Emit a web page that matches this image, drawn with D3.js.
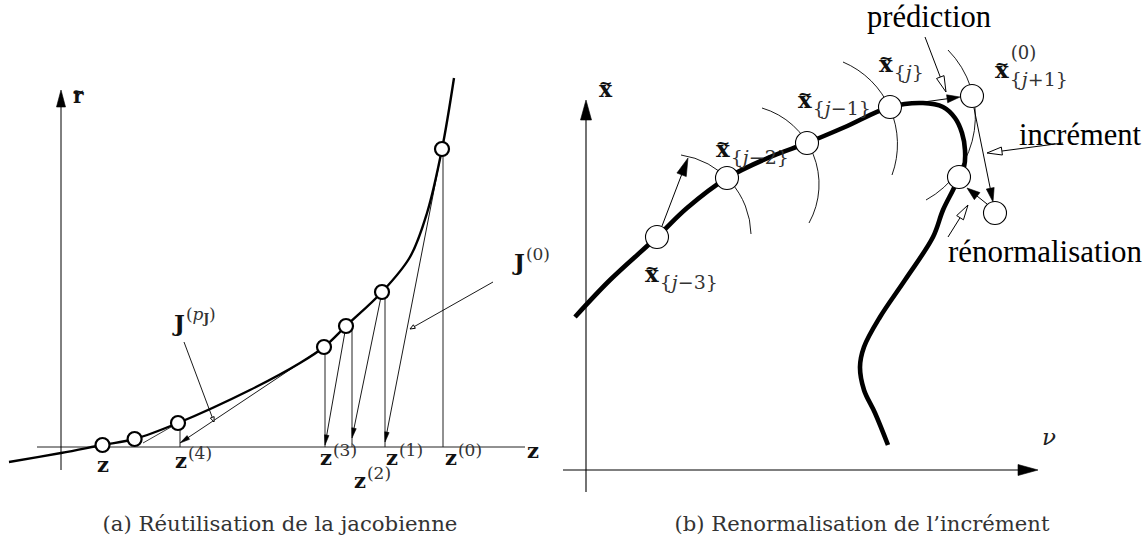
<!DOCTYPE html>
<html><head><meta charset="utf-8">
<script src="https://cdn.jsdelivr.net/npm/d3@7"></script>
<style>body{margin:0;background:#fff}svg{display:block}</style>
</head><body>
<svg id="c" width="1148" height="547"></svg>
<script>
// ===== LEFT PANEL DATA (units: origin at axes crossing, r upward) =====
const leftCurveZ = [-52, 0, 41.5, 73.6, 117, 189, 239, 263, 285, 321, 349, 366, 381, 393];
const leftCurveR = [-15, -6, 2, 8, 24, 57, 84, 100, 121, 155, 190, 234, 298, 369];
const leftPointZ = [381, 321, 285, 263, 117, 73.6, 41.5];
const leftPointR = [298, 155, 121, 100, 24, 8, 2];
const iterZ      = [382, 324, 291, 264, 119];          // z^(0) .. z^(4)
const iterTopR   = [298, 155, 119, 100, 24];           // vertical segment tops
const iterNames  = ["(0)", "(1)", "(2)", "(3)", "(4)"];
const iterLabelZ = [384, 325, 293, 259, 114];
const iterLabelR = [-18, -18, -41, -18, -21];
const chordFrom  = [0, 1, 2, 3];                       // point index
const chordTipZ  = [324, 291, 264, 119];
const chordTipR  = [5, 9, 2, 4];
// ===== RIGHT PANEL DATA (units: origin at axes crossing, x~ upward) =====
const rightCurveU = [-11, 24, 71, 101, 141, 184, 221, 259, 304, 337, 357, 369, 376, 379, 378, 373, 367, 357, 347, 319, 294, 278, 274, 278, 289, 302];
const rightCurveV = [153, 190, 233, 262, 292, 313, 327, 343, 363, 367, 363, 352, 337, 320, 303, 293, 280, 260, 233, 190, 153, 123, 103, 80, 57, 25];
const stepU = [71, 141, 221, 304];   // x~{j-3} .. x~{j}
const stepV = [233, 292, 327, 363];
const predU = 386, predV = 374;
const incrU = 409, incrV = 257;
const renU = 373, renV = 293;
const arcsU = [[95, 141, 165], [176, 233, 223], [257, 311, 306], [362, 389, 340]];
const arcsV = [[315, 292, 236], [362, 283, 247], [408, 335, 295], [420, 345, 270]];
const stepSubs   = ["{j−3}", "{j−2}", "{j−1}", "{j}"];
const stepLabelU = [59, 130, 212, 293];
const stepLabelV = [188, 313, 362, 398];
const captions = ["(a) Réutilisation de la jacobienne", "(b) Renormalisation de l’incrément"];
const words = ["prédiction", "incrément", "rénormalisation"];

const MATH = "'DejaVu Serif', serif";
const TEXT = "'Liberation Serif', 'Times New Roman', serif";
const svg = d3.select("#c");

const xL = d3.scaleLinear().domain([0, 464]).range([61, 525]);
const yL = d3.scaleLinear().domain([0, 380]).range([447, 67]);
const xR = d3.scaleLinear().domain([0, 452]).range([586, 1038]);
const yR = d3.scaleLinear().domain([0, 370]).range([470, 100]);

function head(g, x1, y1, x2, y2, len, wid, filled) {
  const a = Math.atan2(y2 - y1, x2 - x1);
  const bx = x2 - len * Math.cos(a), by = y2 - len * Math.sin(a);
  const px = -Math.sin(a) * wid / 2, py = Math.cos(a) * wid / 2;
  g.append("path").attr("d", `M${x2},${y2}L${bx + px},${by + py}L${bx - px},${by - py}Z`)
    .attr("fill", filled ? "#000" : "#fff").attr("stroke", "#000")
    .attr("stroke-width", filled ? 0.6 : 1);
}
function arrow(g, x1, y1, x2, y2, len, wid, filled, sw) {
  const a = Math.atan2(y2 - y1, x2 - x1);
  const k = filled ? len * 0.7 : len;
  g.append("line").attr("x1", x1).attr("y1", y1)
    .attr("x2", x2 - k * Math.cos(a)).attr("y2", y2 - k * Math.sin(a))
    .attr("stroke", "#000").attr("stroke-width", sw || 1);
  head(g, x1, y1, x2, y2, len, wid, filled);
}
function fit(t, target) {
  const w = t.node().getComputedTextLength();
  t.attr("font-size", parseFloat(t.attr("font-size")) * target / w);
}
function richText(g, x, y, str, fs, color) {
  const t = g.append("text").attr("x", x).attr("y", y).attr("font-family", MATH)
    .attr("font-size", fs).attr("fill", color || "#333");
  for (const ch of str) {
    const s = t.append("tspan").text(ch);
    if (ch === "j" || ch === "p") s.attr("font-style", "italic");
  }
  return t;
}
function tildeLetter(g, x, y, ch, fs) {
  const t = g.append("text").attr("x", x).attr("y", y).attr("font-family", MATH)
    .attr("font-weight", "bold").attr("font-size", fs).attr("fill", "#111").text(ch);
  const w = t.node().getComputedTextLength();
  g.append("text").attr("x", x + w / 2).attr("y", y - fs * 0.36).attr("text-anchor", "middle")
    .attr("font-family", MATH).attr("font-weight", "bold").attr("font-size", fs * 0.75)
    .attr("fill", "#111").text("~");
  return w;
}

// ================= LEFT PANEL =================
const gl = svg.append("g");
gl.append("line").attr("x1", xL(-24)).attr("x2", xL(464)).attr("y1", yL(0)).attr("y2", yL(0))
  .attr("stroke", "#222").attr("stroke-width", 1);
arrow(gl, xL(0), yL(-23), xL(0), yL(357), 17, 9, true, 1);
iterZ.forEach((z, i) => {
  gl.append("line").attr("x1", xL(z)).attr("x2", xL(z)).attr("y1", yL(0)).attr("y2", yL(iterTopR[i]))
    .attr("stroke", "#222").attr("stroke-width", 1);
});
chordFrom.forEach((p, i) => {
  arrow(gl, xL(leftPointZ[p]), yL(leftPointR[p]), xL(chordTipZ[i]), yL(chordTipR[i]), 10, 4.5, true, 0.9);
});
gl.append("line").attr("x1", xL(leftPointZ[4])).attr("y1", yL(leftPointR[4]))
  .attr("x2", xL(82)).attr("y2", yL(4)).attr("stroke", "#222").attr("stroke-width", 0.9);
const lineL = d3.line().x(d => xL(d[0])).y(d => yL(d[1])).curve(d3.curveCatmullRom.alpha(0.5));
gl.append("path").attr("d", lineL(leftCurveZ.map((z, i) => [z, leftCurveR[i]])))
  .attr("fill", "none").attr("stroke", "#000").attr("stroke-width", 2.4);
leftPointZ.forEach((z, i) => {
  gl.append("circle").attr("cx", xL(z)).attr("cy", yL(leftPointR[i])).attr("r", 7)
    .attr("fill", "#fff").attr("stroke", "#000").attr("stroke-width", 2.2);
});
arrow(gl, xL(432), yL(165), xL(349), yL(118), 5, 4, false, 0.9);
arrow(gl, xL(123), yL(105), xL(153), yL(25), 5, 4, false, 0.9);
tildeLetter(gl, xL(12), yL(344), "r", 20);
gl.append("text").attr("x", xL(472)).attr("y", yL(-11)).attr("text-anchor", "middle")
  .attr("font-family", MATH).attr("font-weight", "bold").attr("font-size", 21).attr("fill", "#111").text("z");
gl.append("text").attr("x", xL(42)).attr("y", yL(-25)).attr("text-anchor", "middle")
  .attr("font-family", MATH).attr("font-weight", "bold").attr("font-size", 21).attr("fill", "#111").text("z");
iterNames.forEach((n, i) => {
  const t = gl.append("text").attr("x", xL(iterLabelZ[i])).attr("y", yL(iterLabelR[i]))
    .attr("font-family", MATH).attr("font-weight", "bold").attr("font-size", 21).attr("fill", "#111").text("z");
  const w = t.node().getComputedTextLength();
  richText(gl, xL(iterLabelZ[i]) + w + 1, yL(iterLabelR[i]) - 9, n, 17);
});
{
  const x = xL(113), y = yL(116);
  const t = gl.append("text").attr("x", x).attr("y", y).attr("font-family", MATH).attr("font-weight", "bold")
    .attr("font-size", 23).attr("fill", "#111").text("J");
  const w = t.node().getComputedTextLength();
  const s = gl.append("text").attr("x", x + w + 1).attr("y", y - 11).attr("font-family", MATH)
    .attr("font-size", 17).attr("fill", "#333");
  s.append("tspan").text("(");
  s.append("tspan").attr("font-style", "italic").text("p");
  s.append("tspan").attr("font-weight", "bold").attr("font-size", 12).attr("dy", 3).text("J");
  s.append("tspan").attr("dy", -3).text(")");
}
{
  const x = xL(453), y = yL(177);
  const t = gl.append("text").attr("x", x).attr("y", y).attr("font-family", MATH).attr("font-weight", "bold")
    .attr("font-size", 23).attr("fill", "#111").text("J");
  const w = t.node().getComputedTextLength();
  richText(gl, x + w + 1, y - 10, "(0)", 17);
}

// ================= RIGHT PANEL =================
const gr = svg.append("g");
arrow(gr, xR(-23), yR(0), xR(452), yR(0), 20, 11, true, 1.1);
arrow(gr, xR(0), yR(-22), xR(0), yR(370), 20, 11, true, 1.1);
arcsU.forEach((us, i) => {
  const p = us.map((u, k) => [xR(u), yR(arcsV[i][k])]);
  const [a, b, c] = p;
  const d = 2 * (a[0] * (b[1] - c[1]) + b[0] * (c[1] - a[1]) + c[0] * (a[1] - b[1]));
  const sa = a[0] ** 2 + a[1] ** 2, sb = b[0] ** 2 + b[1] ** 2, sc = c[0] ** 2 + c[1] ** 2;
  const cx = (sa * (b[1] - c[1]) + sb * (c[1] - a[1]) + sc * (a[1] - b[1])) / d;
  const cy = (sa * (c[0] - b[0]) + sb * (a[0] - c[0]) + sc * (b[0] - a[0])) / d;
  const r = Math.hypot(a[0] - cx, a[1] - cy);
  const cross = (b[0] - a[0]) * (c[1] - a[1]) - (b[1] - a[1]) * (c[0] - a[0]);
  const sweep = cross > 0 ? 1 : 0;
  let a1 = Math.atan2(a[1] - cy, a[0] - cx), a3 = Math.atan2(c[1] - cy, c[0] - cx);
  let span = sweep ? a3 - a1 : a1 - a3;
  span = ((span % (2 * Math.PI)) + 2 * Math.PI) % (2 * Math.PI);
  const large = span > Math.PI ? 1 : 0;
  gr.append("path").attr("d", `M${a[0]},${a[1]}A${r},${r} 0 ${large} ${sweep} ${c[0]},${c[1]}`)
    .attr("fill", "none").attr("stroke", "#000").attr("stroke-width", 0.9);
});
const lineR = d3.line().x(d => xR(d[0])).y(d => yR(d[1])).curve(d3.curveCatmullRom.alpha(0.5));
gr.append("path").attr("d", lineR(rightCurveU.map((u, i) => [u, rightCurveV[i]])))
  .attr("fill", "none").attr("stroke", "#000").attr("stroke-width", 4.6);
arrow(gr, xR(76), yR(244), xR(102), yR(312), 18, 10, true, 1);
arrow(gr, xR(316), yR(365), xR(374), yR(373), 13, 8, true, 1);
arrow(gr, xR(388), yR(362), xR(407), yR(268), 14, 8, true, 1);
arrow(gr, xR(401), yR(266), xR(381), yR(282), 13, 9, true, 1);
const circ = stepU.map((u, i) => [u, stepV[i]]).concat([[predU, predV], [renU, renV], [incrU, incrV]]);
circ.forEach(c => {
  gr.append("circle").attr("cx", xR(c[0])).attr("cy", yR(c[1])).attr("r", 11.5)
    .attr("fill", "#fff").attr("stroke", "#000").attr("stroke-width", 1.1);
});
arrow(gr, xR(339), yR(433), xR(360), yR(378), 16, 8, false, 1);
arrow(gr, xR(477), yR(327), xR(401), yR(317), 15, 8, false, 1);
arrow(gr, xR(362), yR(233), xR(382), yR(265), 15, 8, false, 1);
const wordU = [281, 433, 362], wordV = [443, 325, 208], wordW = [124, 122, 194];
words.forEach((w, i) => {
  const t = gr.append("text").attr("x", xR(wordU[i])).attr("y", yR(wordV[i]))
    .attr("font-family", TEXT).attr("font-size", 30).attr("fill", "#000").text(w);
  fit(t, wordW[i]);
});
tildeLetter(gr, xR(13), yR(373), "x", 22);
gr.append("text").attr("x", xR(456)).attr("y", yR(25)).attr("font-family", MATH)
  .attr("font-style", "italic").attr("font-size", 23).attr("fill", "#222").text("ν");
stepSubs.forEach((s, i) => {
  const x = xR(stepLabelU[i]), y = yR(stepLabelV[i]);
  const w = tildeLetter(gr, x, y, "x", 23);
  richText(gr, x + w + 1, y + 7, s, 19);
});
{
  const x = xR(409), y = yR(392);
  const w = tildeLetter(gr, x, y, "x", 23);
  richText(gr, x + w + 2, y - 19, "(0)", 18);
  richText(gr, x + w + 1, y + 8, "{j+1}", 19);
}
const capX = [280, 862], capW = [355, 375];
captions.forEach((c, i) => {
  const t = svg.append("text").attr("x", capX[i]).attr("y", 531).attr("text-anchor", "middle")
    .attr("font-family", MATH).attr("font-size", 19).attr("fill", "#333").text(c);
  fit(t, capW[i]);
});
</script>
</body></html>
